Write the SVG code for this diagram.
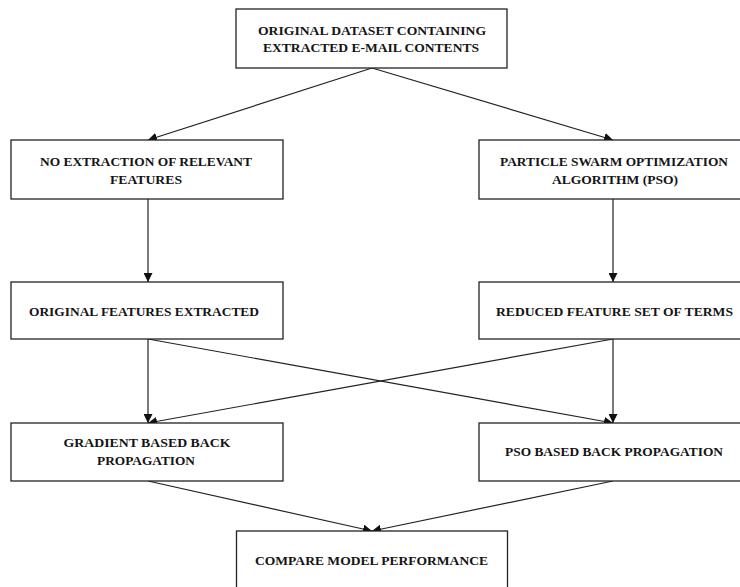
<svg xmlns="http://www.w3.org/2000/svg" width="740" height="587" viewBox="0 0 740 587">
<defs>
<marker id="ah" viewBox="0 0 10 10" refX="10" refY="5" markerWidth="9" markerHeight="9" markerUnits="userSpaceOnUse" orient="auto">
<path d="M0,0 L10,5 L0,10 z" fill="#111"/>
</marker>
<style>
.box{fill:#fff;stroke:#222;stroke-width:1.3}
.t{font-family:"Liberation Serif","Times New Roman",serif;font-weight:bold;font-size:12.5px;fill:#141414;text-anchor:middle}
.c{stroke:#222;stroke-width:1.2;fill:none;marker-end:url(#ah)}
</style>
</defs>
<rect width="740" height="587" fill="#fff"/>
<g id="connectors">
<line class="c" x1="372" y1="68" x2="148" y2="140"/>
<line class="c" x1="372" y1="68" x2="613" y2="140"/>
<line class="c" x1="148" y1="199" x2="148" y2="282"/>
<line class="c" x1="613" y1="199" x2="613" y2="282"/>
<line class="c" x1="148" y1="339" x2="148" y2="423"/>
<line class="c" x1="613" y1="339" x2="613" y2="423"/>
<line class="c" x1="148" y1="339" x2="613" y2="423"/>
<line class="c" x1="613" y1="339" x2="148" y2="423"/>
<line class="c" x1="148" y1="481" x2="372" y2="531"/>
<line class="c" x1="613" y1="481" x2="372" y2="531"/>
</g>
<g id="n1">
<rect class="box" x="236" y="9" width="271" height="59"/>
<text class="t" x="372" y="35" textLength="228" lengthAdjust="spacingAndGlyphs">ORIGINAL DATASET CONTAINING</text>
<text class="t" x="371" y="52" textLength="216" lengthAdjust="spacingAndGlyphs">EXTRACTED  E-MAIL CONTENTS</text>
</g>
<g id="n2">
<rect class="box" x="11" y="140" width="272" height="59"/>
<text class="t" x="146" y="166" textLength="212" lengthAdjust="spacingAndGlyphs">NO EXTRACTION OF RELEVANT</text>
<text class="t" x="146" y="184" textLength="72" lengthAdjust="spacingAndGlyphs">FEATURES</text>
</g>
<g id="n3">
<rect class="box" x="479" y="140" width="272" height="59"/>
<text class="t" x="614" y="166" textLength="228" lengthAdjust="spacingAndGlyphs">PARTICLE SWARM OPTIMIZATION</text>
<text class="t" x="615" y="184" textLength="126" lengthAdjust="spacingAndGlyphs">ALGORITHM (PSO)</text>
</g>
<g id="n4">
<rect class="box" x="11" y="282" width="272" height="57"/>
<text class="t" x="144" y="316" textLength="230" lengthAdjust="spacingAndGlyphs">ORIGINAL FEATURES EXTRACTED</text>
</g>
<g id="n5">
<rect class="box" x="479" y="282" width="272" height="57"/>
<text class="t" x="614.5" y="316" textLength="237" lengthAdjust="spacingAndGlyphs">REDUCED FEATURE SET OF TERMS</text>
</g>
<g id="n6">
<rect class="box" x="11" y="423" width="272" height="58"/>
<text class="t" x="147" y="447" textLength="167" lengthAdjust="spacingAndGlyphs">GRADIENT BASED BACK</text>
<text class="t" x="146" y="464.5" textLength="98" lengthAdjust="spacingAndGlyphs">PROPAGATION</text>
</g>
<g id="n7">
<rect class="box" x="479" y="423" width="272" height="58"/>
<text class="t" x="614" y="456" textLength="218" lengthAdjust="spacingAndGlyphs">PSO BASED BACK PROPAGATION</text>
</g>
<g id="n8">
<rect class="box" x="236.5" y="531" width="271" height="62"/>
<text class="t" x="371.5" y="565" textLength="233" lengthAdjust="spacingAndGlyphs">COMPARE MODEL PERFORMANCE</text>
</g>
</svg>
